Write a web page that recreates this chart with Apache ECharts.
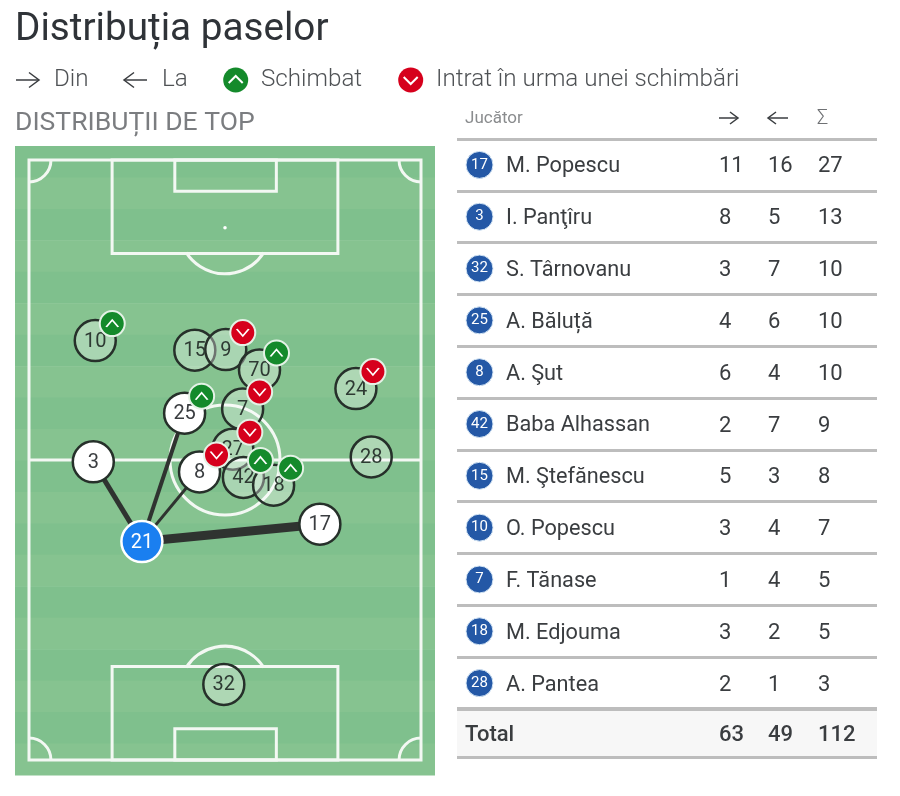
<!DOCTYPE html>
<html><head><meta charset="utf-8">
<style>html,body{margin:0;padding:0;background:#fff}#c{width:900px;height:796px}</style>
<script src="https://cdn.jsdelivr.net/npm/echarts@6/dist/echarts.min.js"></script>
</head><body><div id="c"></div>
<script>
// ---- data ----
const playerNumbers = [10, 15, 9, 70, 7, 24, 27, 42, 18, 28, 32, 3, 25, 8, 17, 21];
const playerX = [16.9, 42.3, 50.2, 58.8, 54.5, 83.4, 52.0, 54.7, 62.4, 87.3, 49.7, 16.4, 39.7, 43.5, 74.2, 28.8];
const playerY = [69.9, 68.3, 68.4, 65.0, 58.5, 61.9, 51.8, 47.1, 45.8, 50.5, 12.6, 49.7, 57.8, 48.0, 39.3, 36.4];
const selectedPlayer = 21;
const passTargets = [3, 25, 8, 17];
const passCounts = [5, 4, 3, 9];
const subbedOn = [10, 70, 25, 42, 18];
const subbedOff = [9, 7, 27, 8, 24];
const tableNumbers = [17, 3, 32, 25, 8, 42, 15, 10, 7, 18, 28];
const tableNames = ['M. Popescu', 'I. Panţîru', 'S. Târnovanu', 'A. Băluță', 'A. Şut', 'Baba Alhassan', 'M. Ştefănescu', 'O. Popescu', 'F. Tănase', 'M. Edjouma', 'A. Pantea'];
const passesFrom = [11, 8, 3, 4, 6, 2, 5, 3, 1, 3, 2];
const passesTo = [16, 5, 7, 6, 4, 7, 3, 4, 4, 2, 1];
const passesSum = [27, 13, 10, 10, 10, 9, 8, 7, 5, 5, 3];
const totals = ['Total', 63, 49, 112];

// ---- pitch furniture, in pitch units (0-100 each way) ----
const STRIPES = 20;
const pitchRects = [[0, 0, 100, 100], [21.2, 84.4, 78.8, 100], [37.2, 94.8, 63.1, 100], [21.2, 0, 78.8, 15.6], [37.2, 0, 63.1, 5.2]];
const pitchLines = [[0, 50, 100, 50]];
const PI = Math.PI;
const pitchArcs = [
  [50, 50, 14.03, 0, 2 * PI], [50, 88.7, 11.73, 0.57, PI - 0.57], [50, 11.3, 11.73, PI + 0.57, 2 * PI - 0.57],
  [0, 100, 5.6, 0, PI / 2], [100, 100, 5.6, PI / 2, PI], [0, 0, 5.6, -PI / 2, 0], [100, 0, 5.6, PI, 1.5 * PI]
];
const FONT = 'Roboto, sans-serif';
const LINE = '#f3f8f3', INK = '#3a3d40', RED = '#d6001c', GREEN = '#148a2b';
const chevUp = 'path://M0 7L6 0L12 7', chevDown = 'path://M0 0L6 7L12 0';

const posOf = n => { const i = playerNumbers.indexOf(n); return [playerX[i], playerY[i]]; };
const isActive = n => passTargets.includes(n);
const plain = playerNumbers.filter(n => !isActive(n) && n !== selectedPlayer);
const noHover = { silent: true, animation: false, emphasis: { disabled: true } };
const NO_AXIS = { show: false };

function circleSeries(nums, size, fill, border, borderW, txt, z) {
  return Object.assign({
    type: 'scatter', xAxisIndex: 0, yAxisIndex: 0, z,
    symbol: 'circle', symbolSize: size,
    itemStyle: { color: fill, borderColor: border, borderWidth: borderW, opacity: 1 },
    label: { show: true, position: 'inside', offset: [0, 1], color: txt, fontFamily: FONT, fontSize: 20, formatter: p => p.data[2] },
    data: nums.map(n => [...posOf(n), n])
  }, noHover);
}
function badgeSeries(nums, colour, chev, z) {
  const base = Object.assign({ type: 'scatter', xAxisIndex: 0, yAxisIndex: 0, z, symbolOffset: [17, -17] }, noHover);
  return [
    Object.assign({}, base, { symbol: 'circle', symbolSize: 25, itemStyle: { color: colour, borderColor: '#e4f2e6', borderWidth: 2, opacity: 1 }, data: nums.map(posOf) }),
    Object.assign({}, base, { z: z + 1, symbol: chev, symbolSize: [12, 7], itemStyle: { color: 'none', borderColor: '#fff', borderWidth: 1.5, opacity: 1 }, data: nums.map(posOf) })
  ];
}
function textColumn(grid, rows, xPos, weight, size) {
  return Object.assign({
    type: 'custom', xAxisIndex: grid, yAxisIndex: grid, z: 5, clip: false,
    encode: { x: 0, y: 1 },
    renderItem: (p, api) => {
      const c = api.coord([xPos, p.dataIndex]);
      return { type: 'text', style: { text: String(rows[p.dataIndex]), x: c[0], y: c[1] + 2, align: 'left', verticalAlign: 'middle', fill: INK, fontFamily: FONT, fontSize: size || 22, fontWeight: weight } };
    },
    data: rows.map((v, i) => [xPos, i])
  }, noHover);
}

// graphic helpers for the key and the table header
const arrow = (x0, x1, y) => ({ type: 'polyline', shape: { points: [[x0, y], [x1, y]] }, style: { stroke: '#3a3d40', lineWidth: 1.5, fill: null }, z: 10 });
const head = (x1, y, dx, h) => ({ type: 'polyline', shape: { points: [[x1 - dx, y - h], [x1, y], [x1 - dx, y + h]] }, style: { stroke: '#3a3d40', lineWidth: 1.5, fill: null }, z: 10 });
const txt = (s, x, y, size, fill, weight) => ({ type: 'text', x, y, style: { text: s, fill, fontFamily: FONT, fontSize: size, fontWeight: weight || 400, verticalAlign: 'middle' }, z: 10 });
const dot = (x, y, fill) => ({ type: 'circle', shape: { cx: x, cy: y, r: 12.5 }, style: { fill }, z: 10 });
const chevG = (x, y, up) => ({ type: 'polyline', shape: { points: up ? [[x - 7, y + 3], [x, y - 4], [x + 7, y + 3]] : [[x - 7, y - 3], [x, y + 4], [x + 7, y - 3]] }, style: { stroke: '#fff', lineWidth: 2, fill: null }, z: 11 });

const chart = echarts.init(document.getElementById('c'), null, { renderer: 'canvas' });
chart.setOption({
  animation: false,
  title: [
    { text: 'Distribuția paselor', left: 15, top: 11, padding: 0, textStyle: { fontFamily: FONT, fontSize: 38.7, fontWeight: 400, color: '#2f3338' } },
    { text: 'DISTRIBUȚII DE TOP', left: 15, top: 110, padding: 0, textStyle: { fontFamily: FONT, fontSize: 26.5, fontWeight: 400, color: '#7b7d80' } }
  ],
  graphic: { elements: [
    arrow(16, 39, 80), head(39, 80, 10, 7.5), txt('Din', 54, 80, 24.2, '#4f5255', 300),
    arrow(147, 124, 80), head(124, 80, -10, 7.5), txt('La', 162, 80, 24.2, '#4f5255', 300),
    dot(235.7, 80, GREEN), chevG(235.7, 80, true), txt('Schimbat', 261, 80, 24.2, '#4f5255', 300),
    dot(410.7, 80, RED), chevG(410.7, 80, false), txt('Intrat în urma unei schimbări', 436, 80, 24.2, '#4f5255', 300),
    txt('Jucător', 465, 119, 17, '#8a8c8e'),
    arrow(719, 738, 118), head(738, 118, 8, 6), arrow(788, 768, 118), head(768, 118, -8, 6),
    txt('Σ', 817, 119, 20, '#6f7174', 300)
  ] },
  grid: [
    { left: 15, top: 146, width: 420, height: 629, show: false },
    { left: 457, top: 139, width: 420, height: 570, show: false },
    { left: 457, top: 708.5, width: 420, height: 49, show: true, backgroundColor: '#f7f7f7', borderWidth: 0 }
  ],
  xAxis: [
    { type: 'value', gridIndex: 0, min: -3.571, max: 103.571, ...NO_AXIS },
    { type: 'value', gridIndex: 1, min: 0, max: 420, ...NO_AXIS },
    { type: 'value', gridIndex: 2, min: 0, max: 420, ...NO_AXIS }
  ],
  yAxis: [
    { type: 'value', gridIndex: 0, min: -2.5, max: 102.33, ...NO_AXIS },
    { type: 'category', gridIndex: 1, inverse: true, data: tableNames,
      axisLine: { show: false }, axisTick: { show: false }, axisLabel: { show: false },
      splitLine: { show: true, interval: 0, showMinLine: true, showMaxLine: true, lineStyle: { color: '#bdbdbd', width: 3 } } },
    { type: 'category', gridIndex: 2, inverse: true, data: [totals[0]],
      axisLine: { show: false }, axisTick: { show: false }, axisLabel: { show: false },
      splitLine: { show: true, interval: 0, showMinLine: true, showMaxLine: true, lineStyle: { color: '#bdbdbd', width: 3 } } }
  ],
  series: [
    // stripes
    Object.assign({ type: 'custom', xAxisIndex: 0, yAxisIndex: 0, z: 1, clip: false,
      renderItem: (p, api) => {
        const top = 102.33 - p.dataIndex * (104.83 / STRIPES), bot = top - 104.83 / STRIPES;
        const a = api.coord([-3.571, top]), b = api.coord([103.571, bot]);
        return { type: 'rect', shape: { x: a[0], y: a[1], width: b[0] - a[0], height: b[1] - a[1] + 0.5 }, style: { fill: p.dataIndex % 2 ? '#86c390' : '#7fc08d' } };
      },
      data: Array.from({ length: STRIPES }, (_, i) => [i]) }, noHover),
    // rectangles and lines
    Object.assign({ type: 'custom', xAxisIndex: 0, yAxisIndex: 0, z: 2, clip: false,
      renderItem: (p, api) => {
        const r = pitchRects[p.dataIndex];
        const a = api.coord([r[0], r[3]]), b = api.coord([r[2], r[1]]);
        return { type: 'rect', shape: { x: a[0], y: a[1], width: b[0] - a[0], height: b[1] - a[1] }, style: { fill: 'none', stroke: LINE, lineWidth: 3 } };
      },
      data: pitchRects.map((r, i) => [i]) }, noHover),
    Object.assign({ type: 'custom', xAxisIndex: 0, yAxisIndex: 0, z: 2, clip: false,
      renderItem: (p, api) => {
        const r = pitchLines[p.dataIndex];
        const a = api.coord([r[0], r[1]]), b = api.coord([r[2], r[3]]);
        return { type: 'line', shape: { x1: a[0], y1: a[1], x2: b[0], y2: b[1] }, style: { stroke: LINE, lineWidth: 3 } };
      },
      data: pitchLines.map((r, i) => [i]) }, noHover),
    Object.assign({ type: 'custom', xAxisIndex: 0, yAxisIndex: 0, z: 2, clip: false,
      renderItem: (p, api) => {
        const r = pitchArcs[p.dataIndex];
        const c = api.coord([r[0], r[1]]);
        return { type: 'arc', shape: { cx: c[0], cy: c[1], r: r[2] * api.size([1, 0])[0], startAngle: r[3], endAngle: r[4], clockwise: true }, style: { fill: 'none', stroke: LINE, lineWidth: 3 } };
      },
      data: pitchArcs.map((r, i) => [i]) }, noHover),
    // penalty spot
    Object.assign({ type: 'scatter', xAxisIndex: 0, yAxisIndex: 0, z: 2, symbol: 'circle', symbolSize: 3.5, itemStyle: { color: '#fff', opacity: 1 }, data: [[50, 88.7]] }, noHover),
    // passes
    Object.assign({ type: 'lines', coordinateSystem: 'cartesian2d', xAxisIndex: 0, yAxisIndex: 0, z: 3,
      lineStyle: { color: '#2f3330', opacity: 1 },
      data: passTargets.map((n, i) => ({ coords: [posOf(selectedPlayer), posOf(n)], lineStyle: { width: passCounts[i], color: '#2f3330', opacity: 1 } })) }, noHover),
    circleSeries(plain, 41, 'rgba(255,255,255,0.33)', '#26302a', 2.5, '#2e3a33', 4),
    circleSeries(passTargets, 41, '#ffffff', '#26302a', 2.5, INK, 5),
    circleSeries([selectedPlayer], 41, '#1a7ff0', '#ffffff', 2.5, '#ffffff', 6),
    ...badgeSeries(subbedOn, GREEN, chevUp, 7),
    ...badgeSeries(subbedOff, RED, chevDown, 7),
    // table
    Object.assign({ type: 'scatter', xAxisIndex: 1, yAxisIndex: 1, z: 5, symbol: 'circle', symbolSize: 27,
      itemStyle: { color: '#2458a6', borderColor: '#d5e6f5', borderWidth: 1, opacity: 1 },
      label: { show: true, position: 'inside', color: '#fff', fontFamily: FONT, fontSize: 15, formatter: p => p.data[2] },
      data: tableNumbers.map((n, i) => [22.5, i, n]) }, noHover),
    textColumn(1, tableNames, 49, 400, 21.7),
    textColumn(1, passesFrom, 262, 400),
    textColumn(1, passesTo, 311, 400),
    textColumn(1, passesSum, 361, 400),
    textColumn(2, [totals[0]], 8, 500),
    textColumn(2, [totals[1]], 262, 500),
    textColumn(2, [totals[2]], 311, 500),
    textColumn(2, [totals[3]], 361, 500)
  ]
});
</script></body></html>
